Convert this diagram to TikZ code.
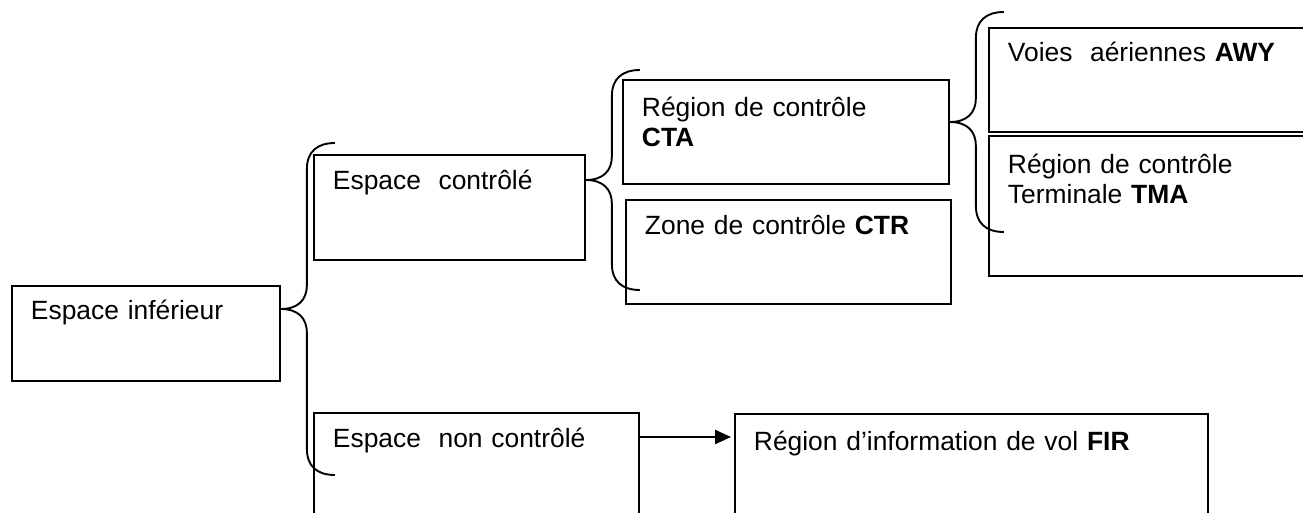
\documentclass[tikz,border=0pt]{standalone}
\usepackage{fontspec}
\setmainfont{Liberation Sans}
\usetikzlibrary{arrows.meta}

\tikzset{
  area/.style={draw, line width=1.9pt, anchor=north west, inner xsep=19pt,
    inner ysep=0pt, align=left, font=\fontsize{26.4}{29.5}\selectfont},
  bracepen/.style={draw, line width=1.9pt},
  link/.style={line width=2.3pt, -{Triangle[length=16pt,width=14pt]}, shorten >=3pt},
}

% Curly brace opening to the right: #1 = its point, #2 = distance from the point to each end
\newcommand\curlybrace[2]{%
  \draw[bracepen] (#1) .. controls +(17,0) and +(0,15) .. ++(26,-24)
    -- ++(0,{-(#2-50)}) .. controls +(0,-17) and +(-18,0) .. ++(28,-26);
  \draw[bracepen] (#1) .. controls +(17,0) and +(0,-15) .. ++(26,24)
    -- ++(0,{#2-50}) .. controls +(0,17) and +(-18,0) .. ++(28,26);
}

\begin{document}
\begin{tikzpicture}[x=1pt,y=-1pt]
\useasboundingbox (0,0) rectangle (1303,513);
\clip (0,0) rectangle (1303,513);

% boxes
\node[area, text width=230pt, text height=34pt, text depth=61pt] (inf) at (11,285)
  {Espace inférieur};
\node[area, text width=233pt, text height=35pt, text depth=70pt] (ctl) at (313,154)
  {Espace\ \ contrôlé};
\node[area, text width=287pt, text height=35pt, text depth=113pt] (nonctl) at (313,412)
  {Espace\ \ non contrôlé};
\node[area, text width=288pt, text height=37pt, text depth=67pt] (cta) at (622,79)
  {Région de contrôle\\\textbf{CTA}};
\node[area, text width=287pt, text height=35pt, text depth=69pt] (ctr) at (625,199)
  {Zone de contrôle \textbf{CTR}};
\node[area, text width=294pt, text height=34pt, text depth=70pt] (awy) at (988,27)
  {Voies\ \ aériennes \textbf{AWY}};
\node[area, text width=294pt, text height=38pt, text depth=102pt] (tma) at (988,135)
  {Région de contrôle\\Terminale \textbf{TMA}};
\node[area, text width=435pt, text height=37pt, text depth=110pt] (fir) at (734,413)
  {Région d’information de vol \textbf{FIR}};

% brace points on the right side of each parent box
\coordinate (p1) at ([yshift=-24pt]inf.north east);
\coordinate (p2) at ([yshift=-26pt]ctl.north east);
\coordinate (p3) at ([yshift=-43pt]cta.north east);

\curlybrace{p1}{166}
\curlybrace{p2}{110}
\curlybrace{p3}{110}

% arrow to the flight information region
\draw[link] ([yshift=-25pt]nonctl.north east) -- ([yshift=-24pt]fir.north west);
\end{tikzpicture}
\end{document}
